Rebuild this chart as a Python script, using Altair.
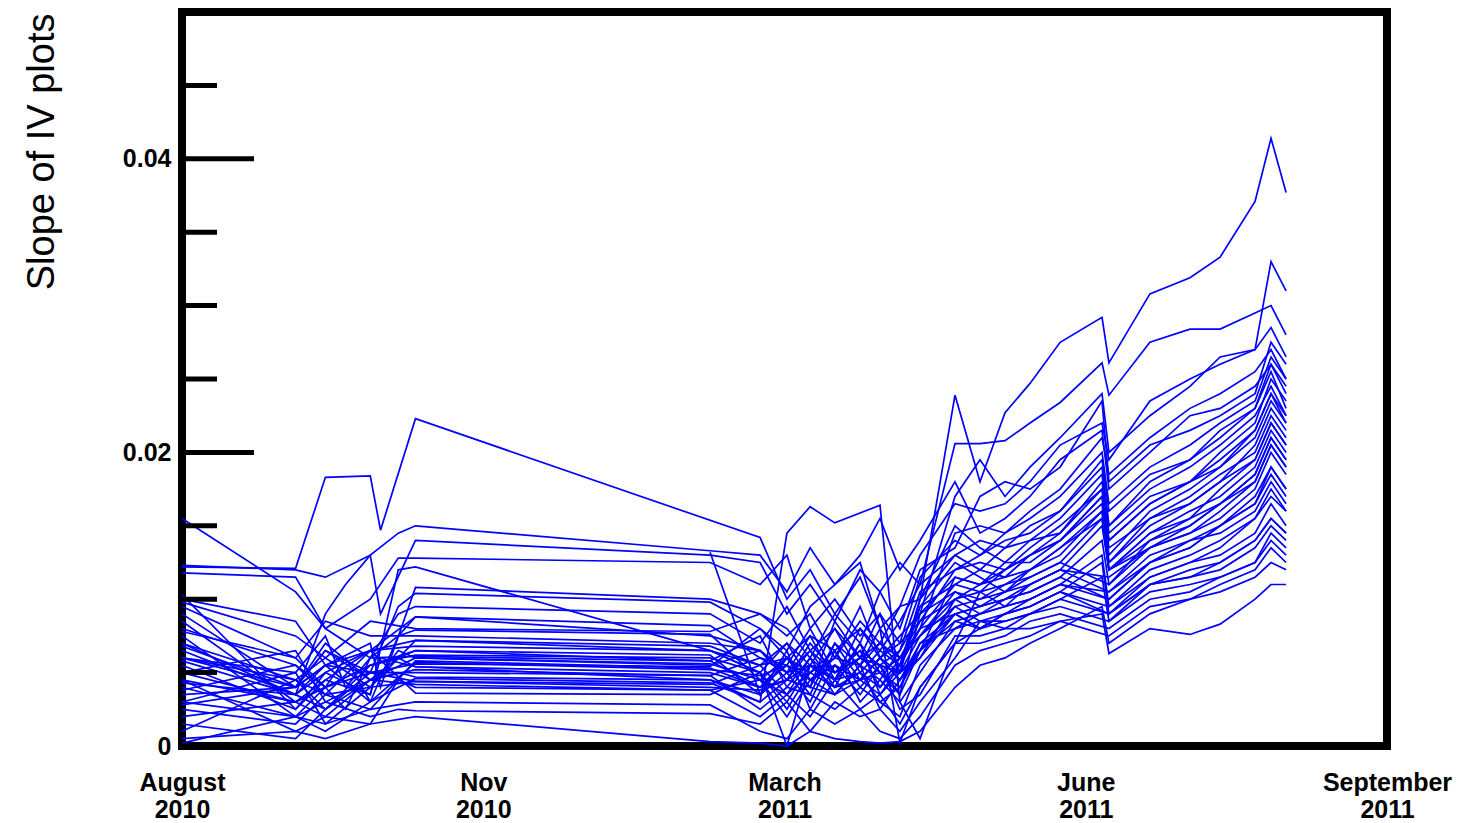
import altair as alt
import pandas as pd

# measurement positions on the x axis (0 = August 2010, 1 = Nov 2010, 2 = March 2011, 3 = June 2011, 4 = September 2011)
t = [0.00, 0.377, 0.476, 0.543, 0.625, 0.659, 0.718, 0.775, 1.753, 1.919,
     2.008, 2.085, 2.167, 2.251, 2.317, 2.383, 2.450, 2.566, 2.649, 2.732,
     2.815, 2.915, 3.054, 3.077, 3.213, 3.346, 3.446, 3.562, 3.615, 3.665]

x_tick_values = [0, 1, 2, 3, 4]
x_tick_labels = ["August|2010", "Nov|2010", "March|2011", "June|2011", "September|2011"]
y_label_values = [0, 20, 40]          # in units of 0.001
y_major_ticks = [0, 20, 40]
y_minor_ticks = [5, 10, 15, 25, 30, 35, 45]

N = None
# slope values in units of 0.001, one list per device
s01 = [6.0, 4.0, 5.5, N, 6.5, N, N, 7.2, 6.5, 5.0, 7.0, 5.5, 8.0, 6.0, N, 5.0, 10.0, 23.9, 18.0, 22.7, 24.7, 27.5, 29.2, 26.1, 30.8, 31.9, 33.3, 37.1, 41.4, 37.7]
s02 = [9.5, 6.0, 4.0, N, 5.5, N, N, 6.5, 5.8, 4.0, 6.0, 7.5, 4.5, 8.0, 6.5, 8.5, 11.0, 20.6, 20.6, 20.8, 22.0, 23.4, 26.1, 23.9, 27.5, 28.4, 28.4, 29.5, 30.0, 28.0]
s03 = [4.5, 3.0, 2.0, N, 4.5, N, 6.0, 5.4, 4.5, 3.5, 5.0, 3.0, 6.5, 4.0, 5.5, 3.5, 9.0, 17.0, 19.5, 17.0, 19.0, 21.0, 24.0, 20.0, 22.5, 24.5, 26.5, 27.0, 33.0, 31.0]
s04 = [12.2, 12.1, 18.3, N, 18.4, 14.7, N, 22.3, N, 14.2, 10.0, 12.0, 9.0, 11.5, 8.0, 9.5, 13.0, 16.5, 16.0, 16.5, 18.0, 20.5, 22.0, 19.5, 23.5, 25.0, 26.0, 27.0, 28.5, 26.5]
s05 = [15.5, 10.5, 8.0, N, 6.0, N, 7.5, 8.8, 7.5, 6.5, 4.5, 7.0, 5.0, 6.5, 4.0, 6.0, 8.0, 14.5, 15.0, 14.5, 16.0, 17.5, 21.0, 18.5, 21.0, 23.0, 24.0, 25.5, 27.0, 25.0]
s06 = [7.0, 3.5, 9.0, 11.0, 13.0, N, 14.5, 15.0, 13.3, 13.0, 10.5, 13.5, 11.0, 13.0, 15.5, 12.0, 14.0, 18.0, 14.5, 15.5, 17.0, 19.5, 21.5, 17.5, 20.0, 22.5, 23.0, 24.5, 26.0, 24.0]
s07 = [12.3, 12.0, 11.5, N, 13.0, 9.0, N, 14.0, 13.0, 12.5, 9.0, 11.0, 8.5, 12.0, 10.5, 12.5, 11.0, 13.0, 14.0, 13.5, 15.0, 16.0, 19.5, 16.0, 18.5, 19.5, 21.5, 23.0, 25.5, 23.0]
s08 = [11.8, 11.5, 8.0, N, 10.0, N, 12.8, 12.8, 12.5, 11.0, 13.0, 8.0, 10.0, 7.5, 9.0, 7.0, 8.5, 12.0, 12.5, 12.0, 13.5, 15.0, 17.5, 14.0, 16.5, 18.0, 19.0, 21.5, 24.0, 22.0]
s09 = [10.3, 2.5, 5.0, N, 3.5, N, 12.0, 12.2, 6.5, 5.0, 3.0, 5.5, 4.0, 7.0, 5.0, 3.5, 6.5, 11.5, 11.0, 12.5, 12.5, 14.0, 16.5, 12.5, 15.5, 17.0, 18.5, 20.0, 22.5, 21.0]
s10 = [10.0, 8.5, 5.5, N, 7.0, 4.0, N, 10.8, 10.0, 9.0, 7.5, 9.0, 6.0, 8.5, 7.0, 9.5, 10.0, 15.0, 13.5, 12.5, 14.0, 14.5, 18.0, 14.5, 17.0, 18.0, 20.0, 22.0, 25.0, 23.5]
s11 = [9.0, 4.0, 6.5, N, 5.0, N, 9.5, 10.4, 9.8, 8.0, 6.0, 4.0, 7.0, 5.5, 8.0, 6.0, 7.5, 10.0, 10.5, 11.0, 11.5, 12.5, N, 11.0, 14.0, 15.5, 16.5, 18.5, 21.0, 19.5]
s12 = [8.5, 3.0, 4.0, 2.5, 6.0, N, 9.0, 9.5, 9.0, 7.0, 9.5, 6.5, 8.0, 5.0, 6.5, 5.5, 9.5, 12.5, 11.5, 10.5, 12.0, 13.5, 16.0, 12.0, 13.5, 14.5, 15.5, 17.5, 20.0, 18.5]
s13 = [8.0, 5.5, 3.5, N, 6.5, N, N, 8.8, 8.2, 6.0, 5.5, 8.0, 5.0, 6.0, 9.0, 5.0, 6.0, 9.0, 9.5, 10.0, 10.5, 11.5, N, 10.0, 12.5, 13.5, 15.0, 16.5, 18.5, 17.0]
s14 = [7.5, 2.0, 1.0, N, 3.0, N, 7.5, 7.9, 7.6, 4.5, 2.0, 4.5, 3.5, 5.5, 4.5, 3.0, 5.0, 8.5, 8.0, 9.0, 9.5, 10.5, 12.5, 9.0, 11.5, 12.5, 13.0, 14.5, 16.5, 15.0]
s15 = [7.0, 4.5, 6.0, N, 4.0, N, N, 7.2, 6.8, 5.5, 7.0, 4.5, 6.0, 9.5, 6.0, 4.5, 6.5, 9.5, 8.5, 8.5, 9.0, 9.5, N, 8.5, 10.5, 11.0, 11.5, 12.5, 14.0, 13.0]
s16 = [6.5, 3.5, 2.5, N, 5.5, N, 6.0, 6.5, 6.2, 3.5, 6.5, 2.5, 5.5, 3.5, 5.5, 2.5, 3.5, 7.5, 7.5, 8.0, 8.0, 8.5, 9.0, 6.3, 8.0, 7.6, 8.3, 10.0, 11.0, 11.0]
s17 = [6.0, 5.0, 7.5, 4.0, 6.0, N, N, 6.1, 5.8, 7.5, 4.0, 6.0, 4.5, 7.0, 3.5, 5.5, 8.0, 11.0, 12.0, 11.5, 13.0, 14.0, 17.0, 13.5, 15.5, 16.5, 18.0, 19.5, 22.0, 20.5]
s18 = [5.5, 2.5, 4.5, N, 3.5, 6.0, N, 5.4, 5.0, 4.0, 5.5, 3.5, 7.0, 4.5, 6.0, 7.5, 9.0, 10.5, 9.5, 10.5, 11.0, 12.0, N, 10.5, 13.0, 14.0, 14.5, 16.0, 18.0, 16.5]
s19 = [5.0, 6.5, 3.0, N, 4.5, N, 5.0, 4.7, 4.5, 3.0, 4.5, 6.5, 4.0, 5.0, 3.0, 4.0, 7.0, 8.0, 9.0, 9.5, 10.0, 11.0, 13.0, 9.5, 12.0, 13.0, 14.0, 15.5, 17.5, 16.0]
s20 = [4.5, 1.0, 2.0, N, 1.5, N, 4.5, 4.0, 3.8, 2.0, 3.5, 2.0, 4.5, 2.5, 3.5, 1.5, 4.0, 7.0, 7.0, 7.5, 8.5, 9.0, N, 8.0, 10.0, 10.5, 11.5, 12.5, 14.5, 13.5]
s21 = [4.3, 3.5, 5.0, N, 6.5, N, N, 3.6, 3.5, 5.0, 2.5, 5.0, 6.5, 3.0, 4.5, 6.5, 10.5, 12.0, 13.0, 14.0, 14.5, 16.0, 19.0, 15.0, 17.5, 19.0, 20.5, 22.5, 24.5, 22.5]
s22 = [4.0, 2.0, 3.0, N, 2.0, N, 2.5, 2.4, 2.2, 1.5, 3.0, 1.0, 3.0, 2.0, 2.5, 1.0, 3.0, 6.0, 8.5, 8.0, 9.0, 10.0, N, 9.0, 11.0, 12.0, 12.5, 14.0, 15.5, 14.5]
s23 = [3.5, 4.0, 5.5, N, 5.0, N, N, 5.0, 4.8, 6.0, 5.0, 5.5, 5.0, 6.0, 5.5, 5.0, 7.5, 9.5, 10.0, 10.5, 11.5, 12.5, 15.5, 12.0, 14.5, 16.0, 17.0, 19.0, 21.5, 20.0]
s24 = [3.0, 5.0, 1.5, N, 4.0, N, 6.5, 6.0, 5.6, 4.5, 6.0, 5.0, 6.0, 5.5, 7.0, 6.0, 8.5, 10.0, 11.0, 11.5, 12.0, 13.0, 16.0, 12.5, 15.0, 16.5, 18.0, 20.5, 23.0, 21.5]
s25 = [2.5, 1.5, 3.5, N, 2.5, N, N, 5.8, 5.3, 4.0, 4.5, 5.5, 4.5, 5.0, 4.0, 5.5, 8.0, 9.0, 8.0, 9.0, 10.0, 11.0, N, 10.0, 12.5, 13.5, 15.0, 17.0, 19.0, 17.5]
s26 = [2.0, 3.0, 4.5, N, 6.5, N, N, 6.8, 6.5, 5.5, 6.0, 4.5, 5.5, 4.5, 6.0, 5.0, 9.5, 11.0, 10.5, 12.0, 13.0, 14.0, 17.0, 13.0, 16.0, 17.5, 19.0, 21.0, 23.5, 22.0]
s27 = [1.5, 0.5, 2.5, N, 4.5, N, N, 5.2, 4.8, 2.5, 4.0, 3.5, 2.5, 4.0, 3.0, 2.0, 5.5, 8.0, 8.5, 9.0, 9.5, 10.5, N, 9.5, 11.5, 12.5, 13.5, 15.5, 17.0, 16.0]
s28 = [1.0, 4.5, 3.5, N, 4.0, N, N, 4.4, 4.2, 5.5, 3.5, 6.0, 3.5, 5.5, 2.5, 4.5, 6.0, 10.0, 9.0, 10.0, 10.5, 11.5, 14.0, 11.0, 13.5, 14.5, 16.0, 18.0, 20.5, 19.0]
s29 = [0.2, 2.0, 1.5, N, 2.5, N, N, 3.0, 2.8, 1.0, 0.5, 2.5, 1.5, 2.5, 1.0, 0.5, 2.0, 5.5, 6.5, 7.0, 7.5, 8.5, N, 7.5, 9.5, 10.0, 11.0, 12.0, 13.5, 12.5]
s30 = [0.5, 1.0, 0.5, N, 1.5, N, N, 2.0, 0.3, 0.2, 0.0, 1.0, 0.5, 0.3, 0.2, 0.3, 1.0, 4.0, 5.5, 6.0, 7.0, 8.0, 9.5, 7.0, 9.0, 10.0, 10.5, 11.5, 12.5, 12.0]
s31 = [3.0, 2.0, 4.0, 6.0, 3.0, N, N, 4.6, 4.3, 3.0, 14.5, 16.3, 15.2, N, 16.4, 3.0, 0.5, 7.0, 8.0, 8.5, 9.0, 10.0, 11.5, 8.5, 11.0, 11.5, 12.0, 13.5, 15.0, 14.0]
s32 = [5.0, 3.0, 4.0, N, 5.5, N, N, 6.2, 6.0, 5.0, 0.0, 5.5, 4.5, 6.0, 5.0, 4.0, 6.5, 9.0, 9.5, 10.0, 11.0, 12.0, N, 11.5, 13.5, 15.0, 16.5, 18.0, 20.5, 19.0]
s33 = [6.0, 4.5, 2.5, N, 5.0, N, N, 5.6, 5.4, 8.0, 6.5, 9.5, 11.0, 12.5, 8.0, 0.2, 4.0, 7.0, 10.5, 9.5, 11.0, 12.0, 15.0, 12.0, 14.5, 15.5, 17.5, 19.5, 22.0, 20.5]
s34 = [N, N, N, N, N, N, N, N, 13.2, 3.5, 6.0, 4.0, 8.5, 6.0, 7.0, 5.5, 10.0, 13.0, 12.0, 13.5, 14.0, 15.5, 18.5, 15.0, 18.0, 19.5, 21.0, 23.0, 26.0, 24.5]
s35 = [9.8, 7.5, 6.0, N, 8.5, N, N, 8.0, 7.8, 9.0, 8.0, 6.0, 9.0, 7.0, 10.5, 8.0, 12.0, 13.5, 17.0, 18.0, 17.5, 19.0, 23.5, 18.0, 20.5, 21.5, 22.5, 24.0, 27.5, 26.0]
s36 = [7.8, 6.0, 8.5, N, 7.5, N, N, 7.5, 7.0, 6.5, 5.0, 7.5, 6.5, 8.0, 6.0, 7.0, 11.5, 14.0, 13.0, 14.5, 15.5, 17.0, 20.0, 16.5, 19.0, 20.5, 22.0, 23.5, 26.5, 25.0]
s37 = [3.8, 5.5, 4.0, N, 5.0, N, N, 4.4, 4.0, 3.8, 4.5, 4.0, 3.5, 4.5, 6.0, 4.5, 7.0, 9.0, 8.0, 9.0, 9.5, 10.5, N, 9.0, 11.0, 11.5, 12.5, 14.0, 15.5, 14.5]
s38 = [5.8, 3.5, 5.5, N, 3.0, N, N, 5.7, 5.2, 4.8, 5.5, 4.5, 5.5, 4.5, 5.0, 6.0, 7.5, 10.5, 10.0, 11.0, 12.0, 13.5, 15.5, 12.0, 14.0, 15.0, 16.5, 18.5, 21.0, 19.5]
s39 = [6.8, 4.0, 6.5, N, 4.5, N, N, 6.0, 5.5, 6.5, 5.0, 6.5, 5.0, 6.5, 5.5, 6.5, 9.0, 11.5, 11.0, 12.0, 13.0, 14.5, 17.5, 14.0, 16.5, 18.0, 19.5, 21.5, 24.0, 22.5]
s40 = [2.8, 4.0, 7.0, N, 4.5, N, N, 4.2, 3.8, 4.5, 3.5, 5.0, 4.0, 4.5, 3.5, 5.0, 6.5, 8.5, 9.0, 9.5, 10.0, 11.0, N, 10.5, 12.5, 14.0, 15.0, 16.5, 19.0, 17.5]

series = [s01, s02, s03, s04, s05, s06, s07, s08, s09, s10,
          s11, s12, s13, s14, s15, s16, s17, s18, s19, s20,
          s21, s22, s23, s24, s25, s26, s27, s28, s29, s30,
          s31, s32, s33, s34, s35, s36, s37, s38, s39, s40]

rows = []
for i, s in enumerate(series):
    for x, v in zip(t, s):
        if v is not None:
            rows.append({"t": x, "v": v, "device": i})
df = pd.DataFrame(rows)

FONT = "Liberation Sans"
label_js = "[" + ",".join("'" + l + "'" for l in x_tick_labels) + "]"

x_scale = alt.Scale(domain=[0, 4], nice=False, zero=False)
y_scale = alt.Scale(domain=[0, 50], nice=False, zero=True)

y_axis = alt.Axis(values=y_label_values, ticks=False, domain=False, grid=False,
                  labelExpr="datum.value == 0 ? '0' : format(datum.value / 1000, '.2f')",
                  labelFont=FONT, labelFontSize=25, labelFontWeight="bold",
                  labelColor="black", labelPadding=11,
                  title="Slope of IV plots", titleFont=FONT, titleFontSize=38,
                  titleFontWeight="normal", titleColor="black",
                  titleAngle=270, titleAlign="right", titleBaseline="alphabetic",
                  titleX=-129, titleY=1)

lines = alt.Chart(df).mark_line(color="#0000ff", strokeWidth=1.7).encode(
    x=alt.X("t:Q", scale=x_scale,
            axis=alt.Axis(values=x_tick_values, ticks=False, domain=False, grid=False,
                          labelExpr="split(" + label_js + "[datum.value], '|')",
                          labelFont=FONT, labelFontSize=25, labelFontWeight="bold",
                          labelColor="black", labelLineHeight=27, labelPadding=24,
                          labelOverlap=False, labelFlush=False, labelBound=False, title=None)),
    y=alt.Y("v:Q", scale=y_scale, axis=y_axis),
    detail="device:N",
)

minor = alt.Chart(pd.DataFrame({"v": y_minor_ticks})).mark_rule(
    color="black", strokeWidth=5, strokeCap="butt").encode(
    y=alt.Y("v:Q", scale=y_scale, axis=y_axis),
    x=alt.value(0), x2=alt.value(35))

major = alt.Chart(pd.DataFrame({"v": y_major_ticks})).mark_rule(
    color="black", strokeWidth=5, strokeCap="butt").encode(
    y=alt.Y("v:Q", scale=y_scale, axis=y_axis),
    x=alt.value(0), x2=alt.value(72))

chart = alt.layer(lines, minor, major).properties(
    width=1205, height=734,
    autosize=alt.AutoSizeParams(type="none"),
    padding={"left": 182, "top": 12, "right": 79, "bottom": 77},
    background="white",
).configure_view(stroke="black", strokeWidth=8)

chart.save("out.html", embed_options={"renderer": "svg", "actions": False})
